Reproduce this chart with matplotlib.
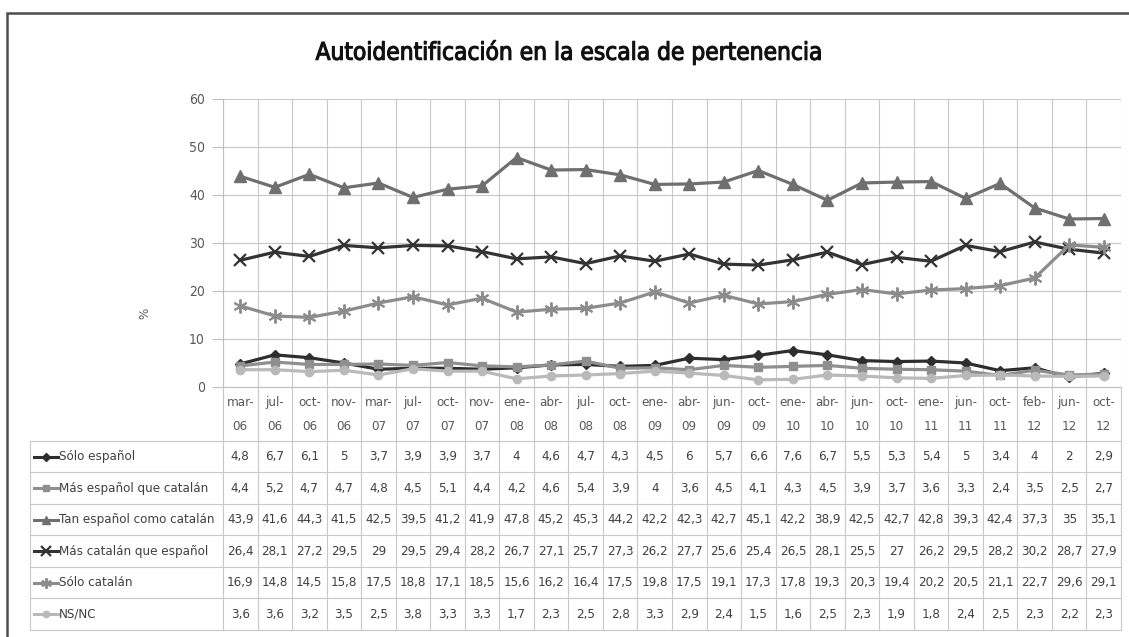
import matplotlib
matplotlib.use("Agg")
import matplotlib.pyplot as plt
from matplotlib import font_manager
from matplotlib import patheffects
from matplotlib.patches import Rectangle
from matplotlib.lines import Line2D

categories = ["mar-\n06", "jul-\n06", "oct-\n06", "nov-\n06", "mar-\n07", "jul-\n07", "oct-\n07",
              "nov-\n07", "ene-\n08", "abr-\n08", "jul-\n08", "oct-\n08", "ene-\n09", "abr-\n09",
              "jun-\n09", "oct-\n09", "ene-\n10", "abr-\n10", "jun-\n10", "oct-\n10", "ene-\n11",
              "jun-\n11", "oct-\n11", "feb-\n12", "jun-\n12", "oct-\n12"]

solo_espanol = [4.8, 6.7, 6.1, 5, 3.7, 3.9, 3.9, 3.7, 4, 4.6, 4.7, 4.3, 4.5, 6, 5.7, 6.6, 7.6, 6.7,
                5.5, 5.3, 5.4, 5, 3.4, 4, 2, 2.9]
mas_espanol = [4.4, 5.2, 4.7, 4.7, 4.8, 4.5, 5.1, 4.4, 4.2, 4.6, 5.4, 3.9, 4, 3.6, 4.5, 4.1, 4.3, 4.5,
               3.9, 3.7, 3.6, 3.3, 2.4, 3.5, 2.5, 2.7]
tan_espanol = [43.9, 41.6, 44.3, 41.5, 42.5, 39.5, 41.2, 41.9, 47.8, 45.2, 45.3, 44.2, 42.2, 42.3,
               42.7, 45.1, 42.2, 38.9, 42.5, 42.7, 42.8, 39.3, 42.4, 37.3, 35, 35.1]
mas_catalan = [26.4, 28.1, 27.2, 29.5, 29, 29.5, 29.4, 28.2, 26.7, 27.1, 25.7, 27.3, 26.2, 27.7,
               25.6, 25.4, 26.5, 28.1, 25.5, 27, 26.2, 29.5, 28.2, 30.2, 28.7, 27.9]
solo_catalan = [16.9, 14.8, 14.5, 15.8, 17.5, 18.8, 17.1, 18.5, 15.6, 16.2, 16.4, 17.5, 19.8, 17.5,
                19.1, 17.3, 17.8, 19.3, 20.3, 19.4, 20.2, 20.5, 21.1, 22.7, 29.6, 29.1]
ns_nc = [3.6, 3.6, 3.2, 3.5, 2.5, 3.8, 3.3, 3.3, 1.7, 2.3, 2.5, 2.8, 3.3, 2.9, 2.4, 1.5, 1.6, 2.5,
         2.3, 1.9, 1.8, 2.4, 2.5, 2.3, 2.2, 2.3]

series_names = ["Sólo español", "Más español que catalán", "Tan español como catalán",
                "Más catalán que español", "Sólo catalán", "NS/NC"]
series_values = [solo_espanol, mas_espanol, tan_espanol, mas_catalan, solo_catalan, ns_nc]
series_styles = [
    dict(color="#2e2e2e", marker="D", ms=5),
    dict(color="#8f8f8f", marker="s", ms=6),
    dict(color="#6f6f6f", marker="^", ms=8),
    dict(color="#333333", marker="x", ms=9, mew=1.6),
    dict(color="#8c8c8c", marker=(6, 2, 0), ms=10, mew=1.4),
    dict(color="#b9b9b9", marker="o", ms=6),
]


def pick_narrow(target):
    # condensed face closest to the wanted weight, if one is installed
    best = None
    for f in font_manager.fontManager.ttflist:
        nm = f.name.lower()
        if ("condensed" in nm or "narrow" in nm or "condensed" in f.fname.lower()) \
                and f.style == "normal" and isinstance(f.weight, int):
            if best is None or abs(f.weight - target) < abs(best.weight - target):
                best = f
    if best is None:
        return font_manager.FontProperties(family="Liberation Sans")
    return font_manager.FontProperties(fname=best.fname)


small_fp = pick_narrow(400)


def fp(size):
    p = small_fp.copy()
    p.set_size(size)
    return p


W, H = 1129, 637
fig = plt.figure(figsize=(W / 100, H / 100), dpi=100)

left, right, top, bottom = 223, 1121, 99, 387
tab_bottom = 630
ax = fig.add_axes([left / W, 1 - bottom / H, (right - left) / W, (bottom - top) / H])
n = len(categories)
x = list(range(n))

for vals, st in zip(series_values, series_styles):
    ax.plot(x, vals, lw=2.3, color=st["color"], marker=st["marker"], ms=st["ms"],
            mew=st.get("mew", 1), mfc=st["color"], mec=st["color"], zorder=3)

ax.set_xlim(-0.5, n - 0.5)
ax.set_ylim(0, 60)
ax.set_yticks(range(0, 61, 10))
ax.set_xticks([i + 0.5 for i in range(-1, n)])
ax.set_xticklabels([])
ax.tick_params(axis="x", length=0)
ax.tick_params(axis="y", length=8, width=0.8, color="#bfbfbf", pad=5)
for lab in ax.get_yticklabels():
    lab.set_fontproperties(fp(10))
    lab.set_color("#595959")
ax.grid(True, color="#c8c8c8", lw=0.8)
for s in ["top", "right"]:
    ax.spines[s].set_visible(False)
ax.spines["left"].set_color("#bfbfbf")
ax.spines["bottom"].set_color("#bfbfbf")
fig.text(145 / W, 1 - 313 / H, "%", rotation=90, ha="center", va="center",
         fontproperties=fp(9.5), color="#595959")

# data table below the plot
tax = fig.add_axes([left / W, 1 - tab_bottom / H, (right - left) / W, (tab_bottom - bottom) / H])
tax.set_xlim(-0.5, n - 0.5)
tax.set_ylim(tab_bottom, bottom)
tax.axis("off")
colw = (right - left) / n
leg_x0 = -0.5 - (left - 30) / colw
row_top = 441
row_h = (tab_bottom - row_top) / len(series_names)
grid_c = "#c8c8c8"

for i in range(n + 1):
    tax.plot([i - 0.5, i - 0.5], [bottom, tab_bottom], color=grid_c, lw=0.8, clip_on=False)
tax.plot([leg_x0, leg_x0], [row_top, tab_bottom], color=grid_c, lw=0.8, clip_on=False)
for r in range(len(series_names) + 1):
    yy = row_top + r * row_h
    tax.plot([leg_x0, n - 0.5], [yy, yy], color=grid_c, lw=0.8, clip_on=False)

for i, lab in enumerate(categories):
    a, b = lab.split("\n")
    tax.text(i, 403, a, ha="center", va="center", fontproperties=fp(9.5), color="#595959")
    tax.text(i, 427, b, ha="center", va="center", fontproperties=fp(9.5), color="#595959")

for r, (name, vals, st) in enumerate(zip(series_names, series_values, series_styles)):
    yc = row_top + (r + 0.5) * row_h
    k0 = leg_x0 + 4 / colw
    k1 = leg_x0 + 28 / colw
    tax.add_line(Line2D([k0, k1], [yc, yc], lw=2.2, color=st["color"], clip_on=False))
    tax.plot([(k0 + k1) / 2], [yc], marker=st["marker"], ms=st["ms"] * 0.75, color=st["color"],
             mew=st.get("mew", 1), clip_on=False)
    tax.text(k1 + 1 / colw, yc, name, ha="left", va="center", fontproperties=fp(9.5),
             color="#404040")
    for i, v in enumerate(vals):
        txt = f"{v:g}".replace(".", ",")
        tax.text(i, yc, txt, ha="center", va="center", fontproperties=fp(9.5), color="#404040")

fig.text(569 / W, 1 - 52 / H, "Autoidentificación en la escala de pertenencia", ha="center",
         va="center", fontproperties=fp(17.5), color="#111111",
         path_effects=[patheffects.withStroke(linewidth=0.8, foreground="#111111")])

fig.add_artist(Rectangle((7 / W, -0.05), 1.1, 1 - 13 / H + 0.05, transform=fig.transFigure,
                         fill=False, ec="#4d4d4d", lw=1.8))

fig.savefig("out.png", dpi=100)
